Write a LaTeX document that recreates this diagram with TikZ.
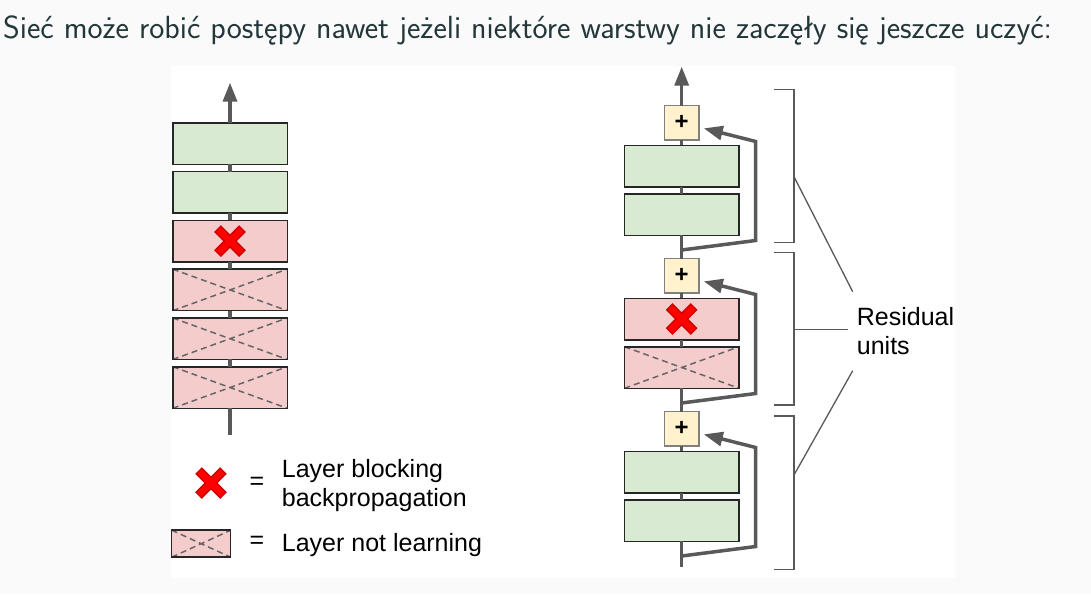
\documentclass[tikz,border=0pt]{standalone}
\usepackage{fontspec}
\newfontfamily\arialf{Liberation Sans}
\usetikzlibrary{arrows.meta}
\definecolor{bgc}{HTML}{FAFAFA}
\definecolor{titlec}{HTML}{23373B}
\definecolor{gfill}{HTML}{D9EAD3}
\definecolor{rfill}{HTML}{F4CCCC}
\definecolor{yfill}{HTML}{FFF2CC}
\definecolor{lgray}{HTML}{595959}
\definecolor{dgray}{HTML}{666666}
\definecolor{xred}{HTML}{FF0000}
\definecolor{xdark}{HTML}{CC0000}
\tikzset{
  layerbox/.style={draw=black!85, line width=1.5pt, minimum width=114.5pt, minimum height=41.5pt, inner sep=0pt, outer sep=0pt},
  gbox/.style={layerbox, fill=gfill},
  pbox/.style={layerbox, fill=rfill},
  nlbox/.style={pbox, path picture={
      \draw[dgray, line width=1.5pt, dash pattern=on 6pt off 4pt]
        (path picture bounding box.north west) -- (path picture bounding box.south east)
        (path picture bounding box.south west) -- (path picture bounding box.north east);}},
  plusbox/.style={draw=gray, line width=1.3pt, fill=yfill, minimum size=34.5pt, inner sep=0pt, outer sep=0pt,
      font=\arialf\bfseries\fontsize{24}{24}\selectfont},
  flow/.style={draw=lgray, line width=3.5pt},
  arr/.style={flow, -{Triangle[length=19pt,width=14pt]}},
  bracket/.style={draw=lgray, line width=1.3pt},
  lbl/.style={font=\arialf\fontsize{25}{29}\selectfont, inner sep=0pt, align=left, text=black},
  redx/.pic={
    \draw[xdark, line width=9.5pt] (-12.5,-12.5) -- (12.5,12.5) (-12.5,12.5) -- (12.5,-12.5);
    \draw[xred, line width=6.5pt] (-11.5,-11.5) -- (11.5,11.5) (-11.5,11.5) -- (11.5,-11.5);
  }
}
\begin{document}
\begin{tikzpicture}[x=1pt,y=-1pt]
\useasboundingbox (0,0) rectangle (1091,594);
\fill[bgc] (0,0) rectangle (1091,594);
\fill[white] (171,66) rectangle (955,578);

% title
\node[anchor=base west, inner sep=0pt, text=titlec, font=\sffamily\fontsize{32}{38}\selectfont] (title) at (3,38)
  {Sieć może robić postępy nawet jeżeli niektóre warstwy nie zaczęły się jeszcze uczyć:};

% ---- left column
\node[gbox]  (l1) at (230,143.5) {};
\node[gbox]  (l2) at (230,192.3) {};
\node[pbox]  (l3) at (230,241.1) {};
\node[nlbox] (l4) at (230,289.9) {};
\node[nlbox] (l5) at (230,338.7) {};
\node[nlbox] (l6) at (230,387.5) {};
\pic at (l3) {redx};
\coordinate (ltop) at (230,82.7);
\coordinate (lbot) at (230,435);
\draw[arr] (l1) -- (ltop);
\draw[flow] (l1) -- (l2);
\draw[flow] (l2) -- (l3);
\draw[flow] (l3) -- (l4);
\draw[flow] (l4) -- (l5);
\draw[flow] (l5) -- (l6);
\draw[flow] (l6) -- (lbot);

% ---- right column
% top unit
\node[plusbox] (p3) at (681.7,122.75) {+};
\node[gbox] (a3) at (681.7,166) {};
\node[gbox] (b3) at (681.7,214.5) {};
% middle unit
\node[plusbox] (p2) at (681.7,275.75) {+};
\node[pbox] (a2) at (681.7,319) {};
\node[nlbox] (b2) at (681.7,367.5) {};
\pic at (a2) {redx};
% bottom unit
\node[plusbox] (p1) at (681.7,428.75) {+};
\node[gbox] (a1) at (681.7,472) {};
\node[gbox] (b1) at (681.7,520.5) {};

\coordinate (rbot) at (681.7,566.7);
\coordinate (rtop) at (681.7,66.7);
\draw[flow] (rbot) -- (b1);
\draw[flow] (b1) -- (a1);
\draw[flow] (a1) -- (p1);
\draw[flow] (p1) -- (b2);
\draw[flow] (b2) -- (a2);
\draw[flow] (a2) -- (p2);
\draw[flow] (p2) -- (b3);
\draw[flow] (b3) -- (a3);
\draw[flow] (a3) -- (p3);
\draw[arr] (p3) -- (rtop);

% skip connections
\coordinate (j1) at (681.7,556);   \coordinate (c1a) at (755.7,546.5); \coordinate (c1b) at (755.7,447.5);
\coordinate (j2) at (681.7,403);   \coordinate (c2a) at (755.7,393.5); \coordinate (c2b) at (755.7,294.5);
\coordinate (j3) at (681.7,250);   \coordinate (c3a) at (755.7,240.5); \coordinate (c3b) at (755.7,141.5);
\draw[arr, shorten >=5pt] (j1) -- (c1a) -- (c1b) -- (p1);
\draw[arr, shorten >=5pt] (j2) -- (c2a) -- (c2b) -- (p2);
\draw[arr, shorten >=5pt] (j3) -- (c3a) -- (c3b) -- (p3);

% brackets
\draw[bracket] (774,89.3) -- (794,89.3) -- (794,242.7) -- (774,242.7);
\draw[bracket] (774,252.7) -- (794,252.7) -- (794,405) -- (774,405);
\draw[bracket] (774,416) -- (794,416) -- (794,569.3) -- (774,569.3);
\node[lbl, anchor=west] (ru) at (856.7,331) {Residual\\units};
\coordinate (m3) at (794,176.7); \coordinate (e3) at (852.7,291.7);
\coordinate (m2) at (794,329.3); \coordinate (e2) at (848.3,329.3);
\coordinate (m1) at (794,475);   \coordinate (e1) at (852.7,370.7);
\draw[bracket] (m3) -- (e3);
\draw[bracket] (m2) -- (e2);
\draw[bracket] (m1) -- (e1);

% legend
\pic at (211,483) {redx};
\node[lbl] (eq1) at (257,483) {=};
\node[lbl, anchor=west] (lg1) at (281.7,486) {Layer blocking\\backpropagation};
\node[nlbox, minimum width=59pt, minimum height=27pt] (lgbox) at (201.2,543.7) {};
\node[lbl] (eq2) at (257,542) {=};
\node[lbl, anchor=base west] (lg2) at (281.7,551) {Layer not learning};
\end{tikzpicture}
\end{document}
